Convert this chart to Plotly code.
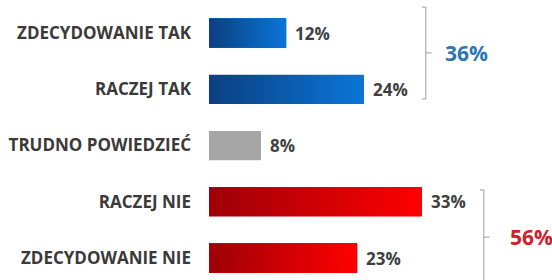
import plotly.graph_objects as go

categories = ["ZDECYDOWANIE TAK", "RACZEJ TAK", "TRUDNO POWIEDZIEĆ", "RACZEJ NIE", "ZDECYDOWANIE NIE"]
values = [12, 24, 8, 33, 23]
value_labels = ["12%", "24%", "8%", "33%", "23%"]
group_members = [[0, 1], [3, 4]]
group_totals = ["36%", "56%"]

# styles
grad_colors = [
    ("#0b3f80", "#0a76d8"),
    ("#0b3f80", "#0a76d8"),
    ("#a6a6a6", "#a6a6a6"),
    ("#9c0008", "#ff0000"),
    ("#9c0008", "#ff0000"),
]
total_colors = ["#2e75b6", "#d0202a"]
bar_w = 0.52
FONT = "Open Sans"

fig = go.Figure()

ypos = list(range(len(categories)))

# base bars (data carriers)
fig.add_trace(go.Bar(
    x=values, y=ypos, orientation="h", width=bar_w,
    marker=dict(color=[c[1] for c in grad_colors], line=dict(width=0)),
    hoverinfo="skip", showlegend=False,
))

# gradient overlays computed from the same values
for i, v in enumerate(values):
    c0, c1 = grad_colors[i]
    y0, y1 = i - bar_w / 2, i + bar_w / 2
    fig.add_trace(go.Scatter(
        x=[0, v, v, 0, 0], y=[y0, y0, y1, y1, y0],
        mode="lines", line=dict(width=0), fill="toself",
        fillgradient=dict(type="horizontal", colorscale=[[0, c0], [1, c1]]),
        hoverinfo="skip", showlegend=False,
    ))

annotations = []
for i, v in enumerate(values):
    annotations.append(dict(
        x=v, y=i, xref="x", yref="y", text=value_labels[i], showarrow=False,
        xanchor="left", yanchor="middle", xshift=7,
        font=dict(family=FONT, size=17, color="#404040", weight="bold"),
    ))

# brackets
bracket_extents = [(-0.46, 1.17), (2.79, 4.47)]
total_shift = [17, 24]
shapes = []
for g, members in enumerate(group_members):
    bx = max(values[m] for m in members) + 9.6
    ya, yb = bracket_extents[g]
    ym = (ya + yb) / 2
    hook = 0.6
    tick = 0.9
    path = (f"M {bx-hook},{ya} L {bx},{ya} L {bx},{yb} L {bx-hook},{yb} "
            f"M {bx},{ym} L {bx+tick},{ym}")
    shapes.append(dict(type="path", path=path, xref="x", yref="y",
                       line=dict(color="#b0b0b0", width=1.2)))
    annotations.append(dict(
        x=bx, y=ym, xref="x", yref="y", text=group_totals[g], showarrow=False,
        xanchor="left", yanchor="middle", xshift=total_shift[g],
        font=dict(family=FONT, size=21, color=total_colors[g], weight="bold"),
    ))

px_per_unit = 6.45
plot_w = 552 - 209
fig.update_layout(
    width=552, height=280,
    margin=dict(l=209, r=0, t=0, b=0, pad=0),
    paper_bgcolor="white", plot_bgcolor="white",
    xaxis=dict(range=[0, plot_w / px_per_unit], visible=False, fixedrange=True),
    yaxis=dict(
        range=[4 + 22 / 56.25, -33 / 56.25], tickvals=ypos, ticktext=categories,
        showgrid=False, zeroline=False, showline=False, ticks="",
        ticklabelstandoff=17,
        tickfont=dict(family=FONT, size=17, color="#3a3a3a", weight="bold"),
        fixedrange=True,
    ),
    shapes=shapes, annotations=annotations,
    bargap=0, showlegend=False,
)

fig.write_html("out.html", config={"displayModeBar": False},
               post_script="document.body.style.margin='0';document.body.style.overflow='hidden';")
